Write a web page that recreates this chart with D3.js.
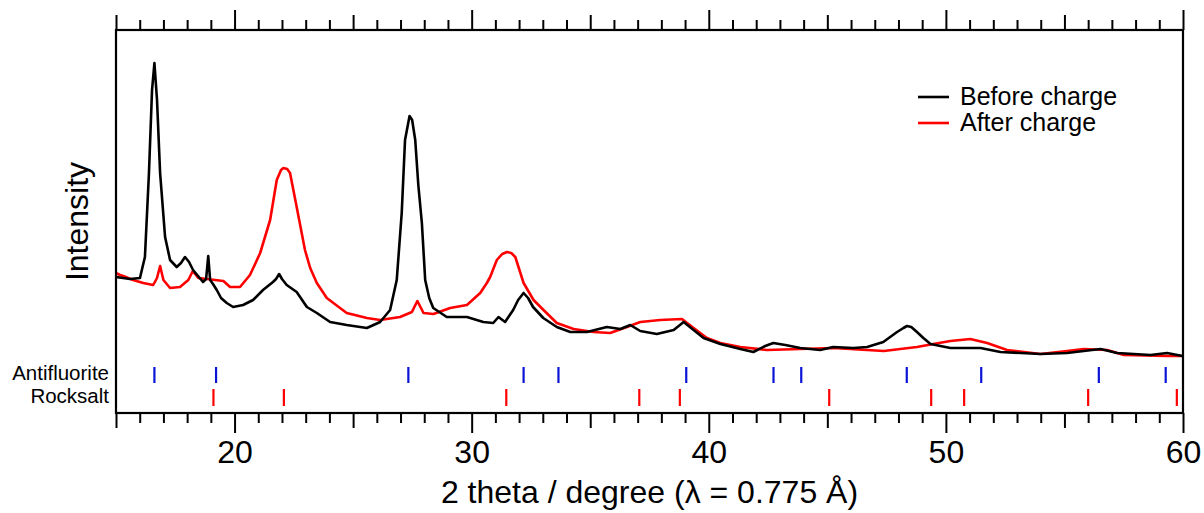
<!DOCTYPE html>
<html>
<head>
<meta charset="utf-8">
<script src="https://cdn.jsdelivr.net/npm/d3@7"></script>
<style>
  html, body { margin: 0; padding: 0; background: #fff; }
  svg { display: block; font-family: "Liberation Sans", Arial, Helvetica, sans-serif; }
</style>
</head>
<body>
<svg id="chart" width="1204" height="513"></svg>
<script>
// XRD patterns, [2theta (deg), intensity (arb. units)]
const beforeCharge = [
  [15.00, 136], [15.59, 134], [16.01, 135], [16.22, 156], [16.39, 240], [16.52, 323],
  [16.62, 350], [16.73, 313], [16.86, 240], [17.07, 176], [17.28, 153], [17.56, 146],
  [17.74, 150], [17.91, 156], [18.08, 151], [18.25, 143], [18.46, 137], [18.67, 131],
  [18.80, 134], [18.89, 157], [18.97, 133], [19.09, 129], [19.25, 123], [19.43, 115],
  [19.67, 110], [19.94, 106], [20.36, 108], [20.78, 113], [21.20, 123], [21.62, 131],
  [21.75, 134], [21.88, 139], [22.00, 134], [22.20, 128], [22.62, 121], [23.05, 106],
  [23.47, 100], [24.03, 91], [24.73, 88], [25.58, 85], [26.14, 91], [26.56, 103],
  [26.84, 133], [27.05, 200], [27.19, 273], [27.38, 297], [27.49, 293], [27.62, 273],
  [27.75, 228], [27.90, 190], [28.04, 133], [28.21, 115], [28.38, 105], [28.95, 96],
  [29.80, 96], [30.49, 91], [30.91, 90], [31.13, 96], [31.41, 91], [31.75, 103],
  [31.96, 113], [32.19, 120], [32.38, 115], [32.59, 106], [33.02, 95], [33.59, 86],
  [34.16, 81], [34.86, 81], [35.70, 86], [36.27, 84], [36.69, 88], [37.11, 82],
  [37.81, 79], [38.52, 83], [38.94, 91], [39.36, 83], [39.78, 75], [40.49, 69],
  [41.33, 64], [41.88, 61], [42.38, 67], [42.72, 70], [43.23, 68], [43.86, 65],
  [44.70, 63], [45.25, 66], [46.10, 65], [46.68, 66], [47.36, 71], [47.94, 81],
  [48.21, 85], [48.36, 87], [48.54, 86], [48.78, 81], [49.05, 75], [49.35, 69],
  [50.19, 65], [50.82, 65], [51.46, 65], [52.30, 61], [53.99, 59], [55.11, 60],
  [56.52, 64], [57.22, 60], [58.63, 58], [59.33, 60], [59.98, 57]
]

const afterCharge = [
  [15.00, 140], [15.17, 138], [15.31, 137], [15.72, 133], [16.15, 130], [16.57, 128],
  [16.73, 135], [16.86, 147], [17.00, 133], [17.28, 125], [17.70, 126], [18.05, 133],
  [18.24, 142], [18.47, 135], [18.83, 134], [19.18, 133], [19.53, 132], [19.81, 126],
  [20.23, 126], [20.65, 138], [21.08, 160], [21.50, 193], [21.78, 233], [21.96, 243],
  [22.06, 245], [22.22, 244], [22.34, 240], [22.62, 206], [22.97, 163], [23.19, 145],
  [23.47, 130], [23.89, 115], [24.73, 100], [25.58, 95], [26.14, 93], [26.98, 96],
  [27.48, 101], [27.71, 112], [27.97, 100], [28.39, 99], [29.09, 105], [29.80, 108],
  [30.36, 120], [30.64, 130], [30.78, 136], [31.06, 153], [31.29, 159], [31.49, 161],
  [31.67, 160], [31.84, 156], [32.19, 130], [32.61, 113], [33.03, 103], [33.59, 90],
  [34.30, 84], [35.14, 81], [35.84, 80], [36.55, 86], [37.11, 91], [37.95, 93],
  [38.87, 94], [39.36, 85], [39.92, 75], [40.49, 70], [41.33, 66], [42.45, 63],
  [43.86, 64], [45.25, 65], [47.38, 62], [48.78, 66], [49.47, 69], [50.19, 72],
  [51.03, 74], [51.74, 70], [52.58, 63], [53.99, 59], [55.11, 62], [55.81, 64],
  [56.80, 63], [57.51, 58], [59.33, 57], [59.98, 57]
]

// reference reflection positions (deg)
const antifluoritePeaks = [16.62, 19.22, 27.33, 32.19, 33.66, 39.05, 42.73, 43.90, 48.35, 51.49, 56.45, 59.27]
const rocksaltPeaks = [19.11, 22.08, 31.46, 37.07, 38.78, 45.08, 49.38, 50.77, 56.00, 59.74]

const xMajorTicks = [20, 30, 40, 50, 60]
const xMidTicks = [15, 25, 35, 45, 55]
const xMinorTicks = d3.range(16, 60).filter(v => v % 5 !== 0)

const legendItems = [
  { label: 'Before charge', color: '#000000' },
  { label: 'After charge', color: '#ff0000' }
]

const margin = { top: 30, right: 21, bottom: 100, left: 116 }
const W = 1204, H = 513
const innerW = W - margin.left - margin.right
const innerH = H - margin.top - margin.bottom

const svg = d3.select('#chart')
const g = svg.append('g').attr('transform', `translate(${margin.left},${margin.top})`)

const x = d3.scaleLinear().domain([15, 60]).range([0, innerW])
const y = d3.scaleLinear().domain([0, 383]).range([innerH, 0])

// tick sets: bottom
function bottomTicks(values, size, labels) {
  const ax = d3.axisBottom(x).tickValues(values).tickSize(size).tickPadding(7)
    .tickFormat(labels ? d3.format('d') : '')
  const a = g.append('g').attr('transform', `translate(0,${innerH})`).call(ax)
  a.select('.domain').remove()
  a.selectAll('line').attr('stroke', '#000').attr('stroke-width', 2)
  a.selectAll('text').attr('font-size', 32).attr('fill', '#000')
    .attr('font-family', '"Liberation Sans", Arial, Helvetica, sans-serif')
}
function topTicks(values, size) {
  const ax = d3.axisTop(x).tickValues(values).tickSize(size).tickFormat('')
  const a = g.append('g').call(ax)
  a.select('.domain').remove()
  a.selectAll('line').attr('stroke', '#000').attr('stroke-width', 2)
}
bottomTicks(xMinorTicks, 10, false)
bottomTicks(xMidTicks, 15, false)
bottomTicks(xMajorTicks, 20, true)
topTicks(xMinorTicks, 10)
topTicks(xMidTicks, 15)
topTicks(xMajorTicks, 20)

// curves
const line = d3.line().x(d => x(d[0])).y(d => y(d[1]))

g.append('path').datum(afterCharge)
  .attr('d', line).attr('fill', 'none')
  .attr('stroke', '#ff0000').attr('stroke-width', 2.6).attr('stroke-linejoin', 'round')

g.append('path').datum(beforeCharge)
  .attr('d', line).attr('fill', 'none')
  .attr('stroke', '#000000').attr('stroke-width', 2.6).attr('stroke-linejoin', 'round')

// reflection markers
g.append('g').selectAll('line')
  .data(antifluoritePeaks)
  .enter().append('line')
  .attr('x1', d => x(d)).attr('x2', d => x(d))
  .attr('y1', 337).attr('y2', 353)
  .attr('stroke', '#0a14d6').attr('stroke-width', 2.2)

g.append('g').selectAll('line')
  .data(rocksaltPeaks)
  .enter().append('line')
  .attr('x1', d => x(d)).attr('x2', d => x(d))
  .attr('y1', 359).attr('y2', 376)
  .attr('stroke', '#ff0000').attr('stroke-width', 2.2)

g.append('text').attr('x', -7).attr('y', 350).attr('text-anchor', 'end')
  .attr('font-size', 20.5).attr('fill', '#000').text('Antifluorite')
g.append('text').attr('x', -7).attr('y', 373).attr('text-anchor', 'end')
  .attr('font-size', 20.5).attr('fill', '#000').text('Rocksalt')

// frame
g.append('rect').attr('x', 0).attr('y', 0).attr('width', innerW).attr('height', innerH)
  .attr('fill', 'none').attr('stroke', '#000').attr('stroke-width', 2.2)

// legend
const legend = g.append('g').attr('transform', 'translate(802,67)')
legendItems.forEach((item, i) => {
  legend.append('line')
    .attr('x1', 0).attr('x2', 31).attr('y1', i * 26).attr('y2', i * 26)
    .attr('stroke', item.color).attr('stroke-width', 2.6)
  legend.append('text')
    .attr('x', 42).attr('y', i * 26 + 8)
    .attr('font-size', 25).attr('fill', '#000')
    .text(item.label)
})

// axis titles
svg.append('text')
  .attr('x', margin.left + innerW / 2).attr('y', 503)
  .attr('text-anchor', 'middle').attr('font-size', 32).attr('fill', '#000')
  .text('2 theta / degree (λ = 0.775 Å)')

svg.append('text')
  .attr('transform', `translate(88,${margin.top + innerH / 2}) rotate(-90)`)
  .attr('text-anchor', 'middle').attr('font-size', 32).attr('fill', '#000')
  .text('Intensity')
</script>
</body>
</html>
